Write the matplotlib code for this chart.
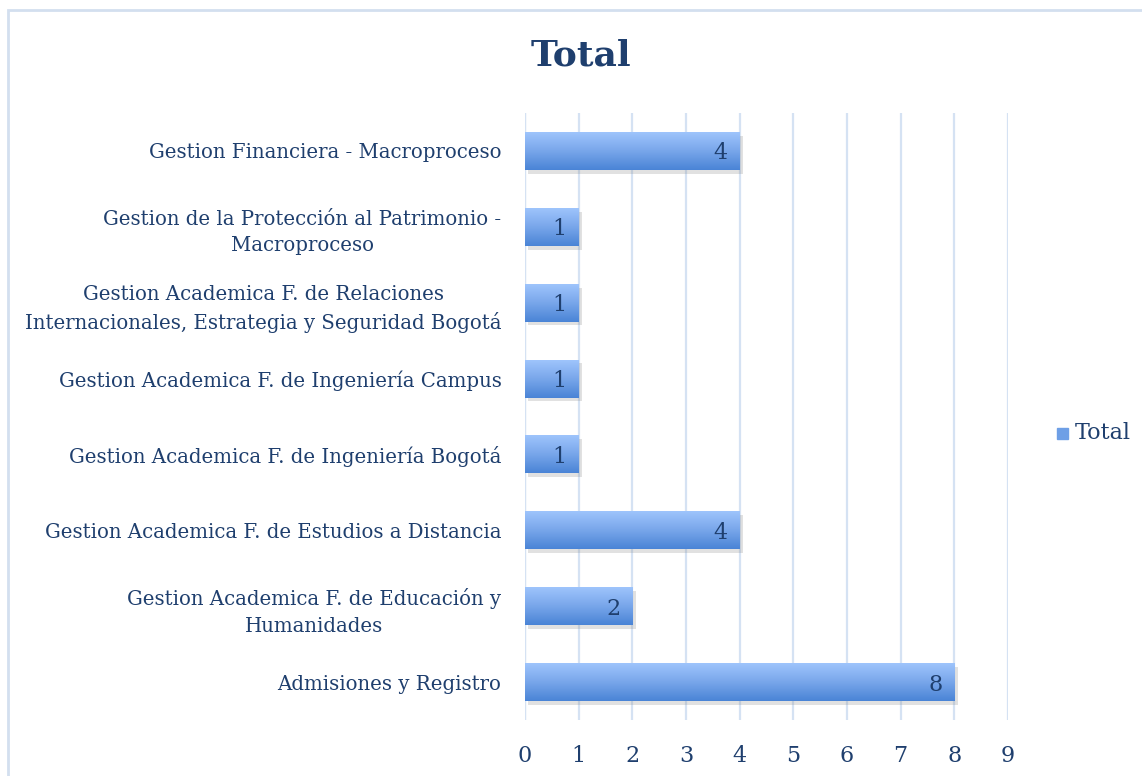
import numpy as np
import matplotlib.pyplot as plt
from matplotlib.patches import Rectangle
from matplotlib.colors import LinearSegmentedColormap

categories = [
    'Admisiones y Registro',
    'Gestion Academica F. de Educación y\nHumanidades',
    'Gestion Academica F. de Estudios a Distancia',
    'Gestion Academica F. de Ingeniería Bogotá',
    'Gestion Academica F. de Ingeniería Campus',
    'Gestion Academica F. de Relaciones\nInternacionales, Estrategia y Seguridad Bogotá',
    'Gestion de la Protección al Patrimonio -\nMacroproceso',
    'Gestion Financiera - Macroproceso',
]
totals = [8, 2, 4, 1, 1, 1, 1, 4]
xticks = list(range(0, 10))

text_col = '#1F3F6E'
grid_col = '#D5E2F3'
plt.rcParams['font.family'] = ['DejaVu Serif']

fig = plt.figure(figsize=(11.42, 7.76), dpi=100)
ax = fig.add_axes([525 / 1142, 56 / 776, 483 / 1142, 607 / 776])

# outer chart border
fig.patches.append(Rectangle((8 / 1142, -0.01), 1.02, 1 - 10 / 776 + 0.01,
                             transform=fig.transFigure, fill=False,
                             edgecolor='#D3DFEF', lw=2))

y = np.arange(len(categories))
h = 0.5
cmap = LinearSegmentedColormap.from_list('g', ['#4A84D6', '#78A6EA', '#9EC4FC'])
grad = np.linspace(0, 1, 100).reshape(-1, 1)

# shadows
ax.barh(y - 0.05, totals, height=h, left=0.06, color='#888888', alpha=0.25, zorder=2)
bars = ax.barh(y, totals, height=h, color='none', zorder=3)
for b, v in zip(bars, totals):
    x0, y0 = b.get_x(), b.get_y()
    im = ax.imshow(grad, extent=(x0, x0 + b.get_width(), y0, y0 + b.get_height()),
                   origin='lower', cmap=cmap, aspect='auto', zorder=3)
    im.set_clip_path(b)
    ax.text(v - 0.22, b.get_y() + b.get_height() / 2, str(v), ha='right',
            va='center_baseline', fontsize=16, color=text_col, zorder=4)

ax.set_xlim(0, 9)
ax.set_ylim(-0.5, len(categories) - 0.5)
ax.set_xticks(xticks)
ax.set_yticks(y)
ax.set_yticklabels(categories, fontsize=14.2, color=text_col,
                   multialignment='center', linespacing=1.5)
ax.tick_params(axis='y', length=0, pad=17)
ax.tick_params(axis='x', length=0, pad=18, labelsize=16, labelcolor=text_col)
ax.grid(axis='x', color=grid_col, lw=1.6, zorder=0)
ax.set_axisbelow(True)
for s in ax.spines.values():
    s.set_visible(False)
ax.axvline(0, color=grid_col, lw=1.6, zorder=1)

fig.text(581 / 1142, 1 - 55 / 776, 'Total', ha='center', va='center',
         fontsize=26, fontweight='bold', color=text_col)

# legend
fig.patches.append(Rectangle((1057 / 1142, 1 - 439 / 776), 11 / 1142, 11 / 776,
                             transform=fig.transFigure, color='#6E9FE6'))
fig.text(1075 / 1142, 1 - 433 / 776, 'Total', ha='left', va='center',
         fontsize=16, color=text_col)

fig.savefig('out.png', dpi=100)
